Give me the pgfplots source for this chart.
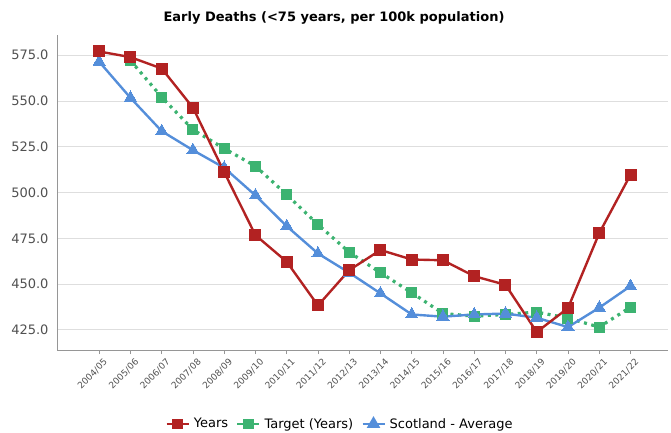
\documentclass[border=0pt]{standalone}
\usepackage{pgfplots}
\pgfplotsset{compat=1.18}
\usepackage{fontspec}
\setmainfont{DejaVu Sans}
\definecolor{cred}{RGB}{178,34,34}
\definecolor{cgreen}{RGB}{60,179,113}
\definecolor{cblue}{RGB}{84,142,218}
\definecolor{ctick}{RGB}{80,80,80}
\definecolor{cgrid}{RGB}{222,222,222}
\definecolor{caxis}{RGB}{150,150,150}
\begin{document}
\begin{tikzpicture}
\useasboundingbox (0,0) rectangle (671bp,433bp);
\node[font=\bfseries\fontsize{13bp}{15bp}\selectfont] at (334bp,415bp) {Early Deaths (<75 years, per 100k population)};
\begin{axis}[
  at={(57bp,83bp)}, anchor=south west,
  scale only axis, width=611bp, height=315bp,
  xmin=-1.35, xmax=18.2, ymin=414, ymax=586,
  axis lines*=left,
  axis line style={caxis, line width=0.8pt},
  ytick={425,450,475,500,525,550,575},
  ymajorgrids, grid style={cgrid, line width=0.8pt},
  major y tick style={draw=none},
  xtick={0,...,17},
  xticklabels={2004/05,2005/06,2006/07,2007/08,2008/09,2009/10,2010/11,2011/12,2012/13,2013/14,2014/15,2015/16,2016/17,2017/18,2018/19,2019/20,2020/21,2021/22},
  x tick label style={rotate=45, anchor=north east, font=\fontsize{9bp}{10bp}\selectfont, text=ctick, inner sep=1pt, yshift=-4.5bp, xshift=1bp},
  y tick label style={font=\fontsize{13bp}{15bp}\selectfont, text=ctick, xshift=-1bp},
  tick align=outside, major x tick style={caxis, line width=0.8pt},
  major tick length=4bp,
  /pgf/number format/assume math mode=true,
  yticklabel style={/pgf/number format/.cd, fixed, fixed zerofill, precision=1},
  clip=false,
  legend style={at={(283bp,-74bp)}, anchor=center, draw=none, fill=none, legend columns=3,
    font=\fontsize{13bp}{15bp}\selectfont, inner sep=0pt,
    /tikz/every even column/.append style={column sep=6bp},
    /tikz/every odd column/.append style={column sep=2bp}},
  legend image code/.code={\draw[mark repeat=2, mark phase=2] plot coordinates {(0bp,0bp)(11bp,0bp)(22bp,0bp)};},
  legend cell align=left,
]
\addplot[cgreen, line width=3.2bp, dash pattern=on 3bp off 4.5bp, mark=square*, mark size=5bp, mark options={solid, line width=0pt}, forget plot] coordinates {
(1,572.1)(2,552.1)(3,534.3)(4,524.0)(5,514.4)(6,498.8)(7,482.5)(8,467.4)(9,456.2)(10,445.3)(11,433.9)(12,432.5)(13,433.4)(14,434.7)(15,431.4)(16,426.5)(17,437.4)};
\addplot[cblue, line width=2.4pt, mark=triangle*, mark size=7bp, mark options={solid, line width=0pt}, forget plot] coordinates {
(0,571.4)(1,551.7)(2,533.5)(3,523.1)(4,513.5)(5,498.4)(6,481.6)(7,466.7)(8,456.2)(9,444.9)(10,433.4)(11,432.2)(12,433.4)(13,433.9)(14,431.6)(15,426.5)(16,437.1)(17,448.9)};
\addplot[cred, line width=2.4pt, mark=square*, mark size=5.5bp, mark options={solid, line width=0pt}, forget plot] coordinates {
(0,577.0)(1,573.9)(2,567.7)(3,546.3)(4,511.1)(5,476.7)(6,462.2)(7,438.3)(8,457.6)(9,468.6)(10,463.4)(11,463.0)(12,454.3)(13,449.6)(14,423.8)(15,436.9)(16,477.8)(17,509.7)};
\addlegendimage{cred, line width=2.4bp, mark=square*, mark size=4.2bp}
\addlegendentry{Years}
\addlegendimage{cgreen, line width=2.4bp, mark=square*, mark size=4.2bp}
\addlegendentry{Target (Years)}
\addlegendimage{cblue, line width=2.4bp, mark=triangle*, mark size=5.5bp}
\addlegendentry{Scotland - Average}
\end{axis}
\end{tikzpicture}
\end{document}
